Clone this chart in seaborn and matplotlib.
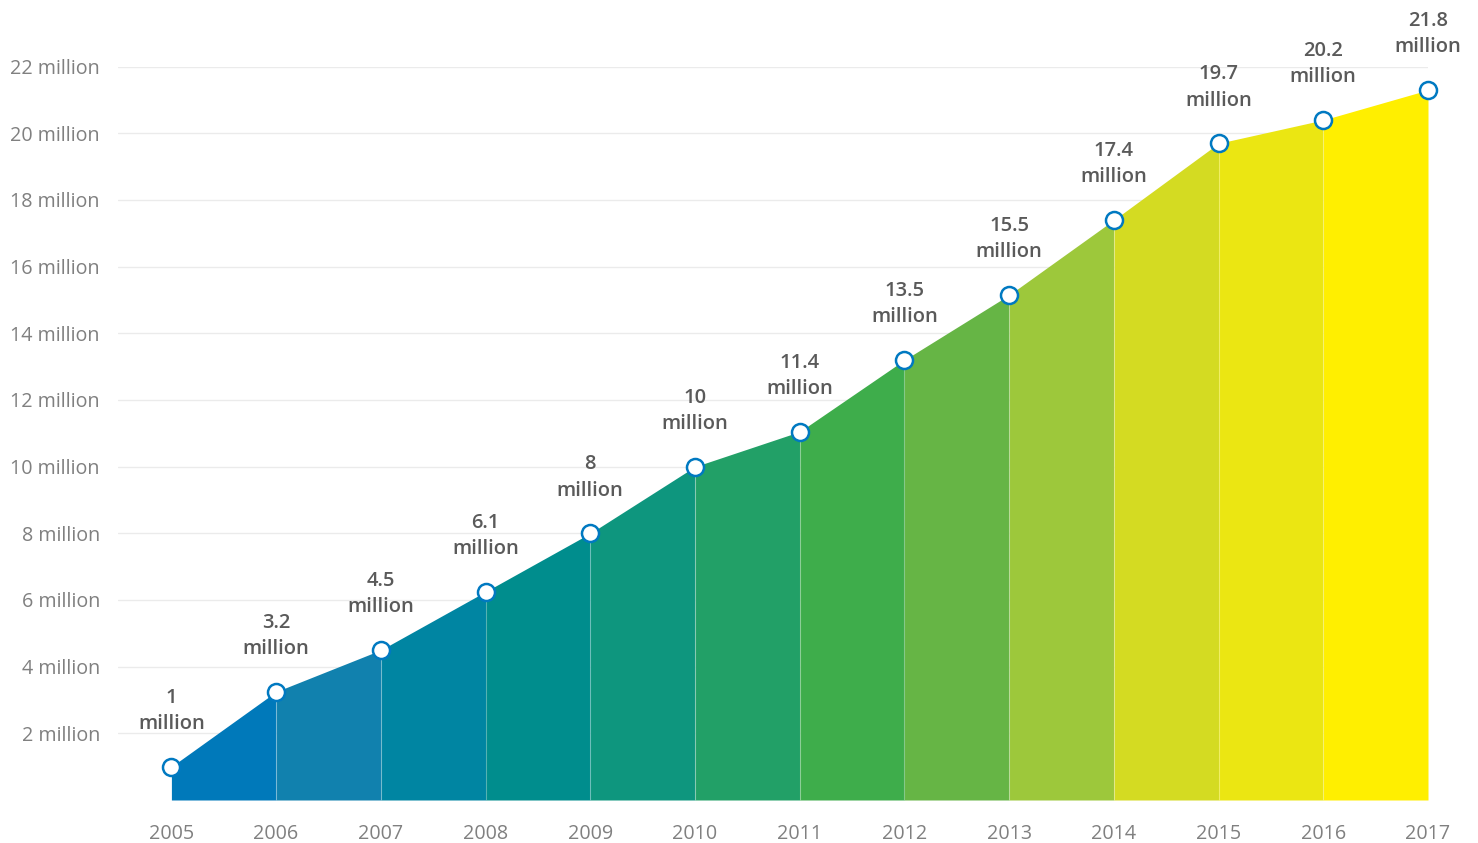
import numpy as np
import pandas as pd
import matplotlib
matplotlib.use("Agg")
import matplotlib.pyplot as plt
import seaborn as sns

years = [2005, 2006, 2007, 2008, 2009, 2010, 2011, 2012, 2013, 2014, 2015, 2016, 2017]
# plotted heights (millions)
users = [1.0, 3.25, 4.5, 6.25, 8.0, 10.0, 11.05, 13.2, 15.15, 17.4, 19.7, 20.4, 21.3]
# annotation texts as printed on the chart
value_labels = ["1", "3.2", "4.5", "6.1", "8", "10", "11.4", "13.5", "15.5",
                "17.4", "19.7", "20.2", "21.8"]
y_ticks = [2, 4, 6, 8, 10, 12, 14, 16, 18, 20, 22]
y_tick_labels = [f"{t} million" for t in y_ticks]
seg_colors = ["#0079BA", "#1181AE", "#0085A2", "#008D8D", "#0E967E", "#22A067",
              "#3EAD4B", "#66B545", "#9DC83B", "#D4DB22", "#EBE612", "#FFEF00"]

df = pd.DataFrame({"year": years, "users": users})

sns.set_theme(style="white")
plt.rcParams["font.family"] = ["Open Sans", "DejaVu Sans"]

fig = plt.figure(figsize=(14.78, 8.43), dpi=100)
ax = fig.add_axes([118 / 1478, 43 / 843, 1310 / 1478, 733.4 / 843])

# coloured segments between consecutive years
for i, c in enumerate(seg_colors):
    ax.fill_between(years[i:i + 2], users[i:i + 2], 0, color=c, linewidth=0, zorder=2)

# thin light dividers at each inner year
ax.vlines(years[1:-1], 0, users[1:-1], color="white", alpha=0.3, linewidth=0.8, zorder=3)

sns.scatterplot(data=df, x="year", y="users", ax=ax, s=150, color="white",
                edgecolor="#0079C1", linewidth=1.8, zorder=5, clip_on=False)

for x, y, lab in zip(years, users, value_labels):
    ax.annotate(f"{lab}\nmillion", (x, y), xytext=(0, 23.5), textcoords="offset points",
                ha="center", va="bottom", fontsize=14.5, fontweight="semibold",
                color="#5A5A5A", linespacing=1.42, zorder=6, annotation_clip=False)

ax.set_xlim(2004.49, 2017)
ax.set_ylim(0, 22)
ax.set_yticks(y_ticks)
ax.set_yticklabels(y_tick_labels)
ax.set_xticks(years)
ax.set_xticklabels([str(y) for y in years])
ax.tick_params(axis="y", length=0, pad=13, labelsize=14.2, labelcolor="#808080")
ax.tick_params(axis="x", length=0, pad=17.5, labelsize=14.2, labelcolor="#808080")
ax.yaxis.grid(True, color="#EBEBEB", linewidth=1.0, zorder=0)
ax.set_axisbelow(True)
for s in ax.spines.values():
    s.set_visible(False)
ax.set_xlabel("")
ax.set_ylabel("")

fig.savefig("out.png", dpi=100)
